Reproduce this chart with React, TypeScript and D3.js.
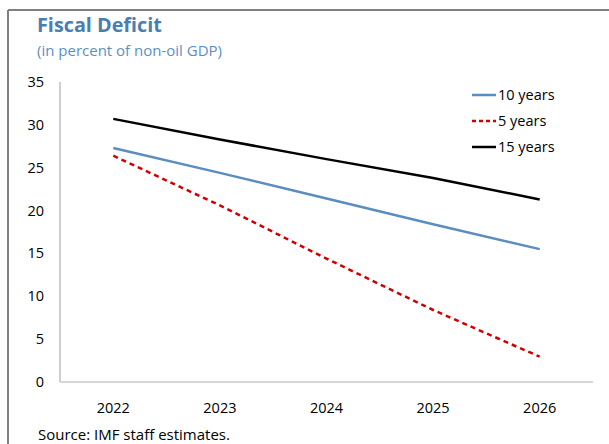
import React from "react";
import * as d3 from "d3";

const years = ["2022", "2023", "2024", "2025", "2026"];
const tenYears = [27.3, 24.4, 21.4, 18.4, 15.5];
const fiveYears = [26.4, 20.6, 14.4, 8.4, 2.95];
const fifteenYears = [30.7, 28.3, 26.0, 23.8, 21.3];
const yTicks = [0, 5, 10, 15, 20, 25, 30, 35];

const series = [
  { name: "10 years", values: tenYears, color: "#5b8dbf", dash: "" },
  { name: "5 years", values: fiveYears, color: "#d00000", dash: "5,4" },
  { name: "15 years", values: fifteenYears, color: "#000000", dash: "" },
];

export default function App() {
  const W = 609, H = 444;
  const left = 60, right = 593, top = 82, bottom = 382;
  const x = d3.scaleBand<string>().domain(years).range([left, right]);
  const y = d3.scaleLinear().domain([0, 35]).range([bottom, top]);
  const line = d3
    .line<number>()
    .x((_, i) => (x(years[i]) as number) + x.bandwidth() / 2)
    .y((d) => y(d));
  const font = "'Segoe UI', 'Open Sans', 'Noto Sans', sans-serif";
  return (
    <svg
      width={W}
      height={H}
      style={{ position: "absolute", left: 0, top: 0, background: "#fff" }}
      fontFamily={font}
    >
      <line x1={8} y1={10} x2={W} y2={10} stroke="#808080" strokeWidth={2} />
      <line x1={8} y1={10} x2={8} y2={H} stroke="#808080" strokeWidth={2} />
      <text x={37} y={32} fontSize={19.8} fontWeight="bold" fill="#4a7eb0">
        Fiscal Deficit
      </text>
      <text x={37} y={56} fontSize={15} fill="#5b8fc4">
        (in percent of non-oil GDP)
      </text>
      {yTicks.map((t) => (
        <text key={t} x={44} y={y(t) + 5} textAnchor="end" fontSize={14.5} fill="#000">
          {t}
        </text>
      ))}
      <line x1={left} y1={top} x2={left} y2={bottom} stroke="#c0c0c0" strokeWidth={1.5} />
      <line x1={left} y1={bottom} x2={right} y2={bottom} stroke="#c8c8c8" strokeWidth={1.5} />
      {years.map((yr) => (
        <text
          key={yr}
          x={(x(yr) as number) + x.bandwidth() / 2}
          y={413}
          textAnchor="middle"
          fontSize={14.5}
          fill="#000"
        >
          {yr}
        </text>
      ))}
      {series.map((s) => (
        <path
          key={s.name}
          d={line(s.values) || ""}
          fill="none"
          stroke={s.color}
          strokeWidth={2.5}
          strokeDasharray={s.dash}
        />
      ))}
      {series.map((s, i) => (
        <g key={s.name} transform={`translate(0, ${95 + i * 26})`}>
          <line x1={472} x2={496} y1={0} y2={0} stroke={s.color} strokeWidth={2.5} strokeDasharray={s.dash ? "4,3" : ""} />
          <text x={498} y={5} fontSize={14.5} fill="#000">
            {s.name}
          </text>
        </g>
      ))}
      <text x={38} y={440} fontSize={15} fill="#000">
        Source: IMF staff estimates.
      </text>
    </svg>
  );
}
